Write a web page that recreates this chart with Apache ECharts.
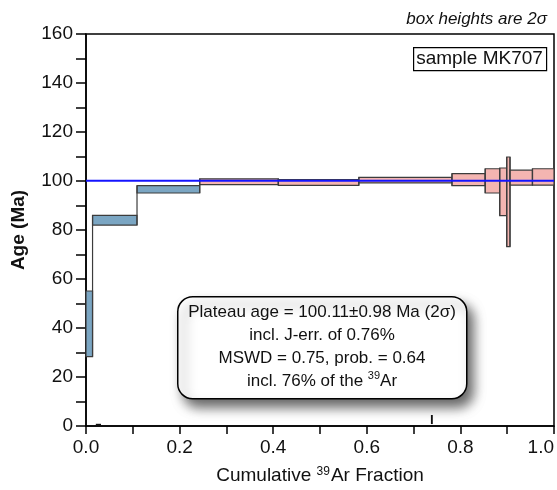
<!DOCTYPE html>
<html>
<head>
<meta charset="utf-8">
<script src="https://cdn.jsdelivr.net/npm/echarts@6/dist/echarts.min.js"></script>
<style>
  html, body { margin: 0; padding: 0; background: #fff; }
  #chart { width: 557px; height: 490px; }
</style>
</head>
<body>
<div id="chart"></div>
<script>
// step boundaries on cumulative 39Ar fraction
const stepBounds = [0, 0.014, 0.109, 0.243, 0.411, 0.583, 0.782, 0.853, 0.884, 0.899, 0.906, 0.954, 1.0];
// apparent age of each step (Ma) and its 2 sigma error
const stepAge = [41.7, 84.0, 96.6, 99.7, 99.4, 100.35, 100.55, 100.05, 95.6, 91.5, 101.35, 101.65];
const stepErr = [13.4, 2.0, 1.5, 1.2, 1.15, 1.15, 2.45, 4.95, 9.7, 18.3, 3.05, 3.35];
const inPlateau = [false, false, false, true, true, true, true, true, true, true, true, true];
const plateauAge = 100.11;

// the two little black marks sitting on the x axis
const markFrom = [0.021, 0.737];
const markTo = [0.032, 0.741];
const markLo = [0.0, 0.8];
const markHi = [0.9, 4.5];

const FONT = "'Liberation Sans', Arial, sans-serif";
const BLUE_FILL = '#7ba6c3';
const PINK_FILL = '#f4b5b1';
const EDGE = '#3c3c3c';

const boxData = stepAge.map((a, i) => [stepBounds[i], stepBounds[i + 1], a - stepErr[i], a + stepErr[i], inPlateau[i] ? 1 : 0]);

// vertical joins between neighbouring steps
const joinData = [];
for (let i = 1; i < stepAge.length; i++) {
  const lo = Math.min(stepAge[i - 1] - stepErr[i - 1], stepAge[i] - stepErr[i]);
  const hi = Math.max(stepAge[i - 1] + stepErr[i - 1], stepAge[i] + stepErr[i]);
  joinData.push([stepBounds[i], lo, hi]);
}

const markData = markFrom.map((f, i) => [f, markTo[i], markLo[i], markHi[i]]);

const chart = echarts.init(document.getElementById('chart'));

const option = {
  animation: false,
  backgroundColor: '#fff',
  textStyle: { fontFamily: FONT },
  grid: {
    left: 86,
    top: 34,
    right: 0,
    bottom: 63,
    show: true,
    borderColor: '#000',
    borderWidth: 1.5,
  },
  xAxis: {
    type: 'value',
    min: 0,
    max: 1,
    interval: 0.2,
    name: '{a|Cumulative }{s|39}{a|Ar Fraction}',
    nameLocation: 'middle',
    nameGap: 40,
    nameTextStyle: {
      rich: {
        a: { fontSize: 19, fontFamily: FONT, color: '#111' },
        s: { fontSize: 12, fontFamily: FONT, color: '#111', verticalAlign: 'top', padding: [0, 1, 0, 0] },
      },
    },
    axisLine: { lineStyle: { color: '#000', width: 1.5 } },
    axisTick: { length: 8, lineStyle: { color: '#000', width: 1.5 } },
    minorTick: { show: true, splitNumber: 2, length: 8, lineStyle: { color: '#000', width: 1.5 } },
    splitLine: { show: false },
    axisLabel: {
      fontSize: 19,
      color: '#111',
      margin: 12,
      alignMaxLabel: 'right',
      formatter: (v) => v.toFixed(1),
    },
  },
  yAxis: {
    type: 'value',
    min: 0,
    max: 160,
    interval: 20,
    name: 'Age (Ma)',
    nameLocation: 'middle',
    nameGap: 58,
    nameTextStyle: { fontSize: 19, fontWeight: 'bold', color: '#111', fontFamily: FONT },
    axisLine: { lineStyle: { color: '#000', width: 1.5 } },
    axisTick: { length: 10, lineStyle: { color: '#000', width: 1.5 } },
    minorTick: { show: true, splitNumber: 2, length: 10, lineStyle: { color: '#000', width: 1.5 } },
    splitLine: { show: false },
    axisLabel: { fontSize: 19, color: '#111', margin: 13 },
  },
  series: [
    {
      type: 'custom',
      name: 'steps',
      data: boxData,
      z: 3,
      renderItem: (params, api) => {
        const p0 = api.coord([api.value(0), api.value(3)]);
        const p1 = api.coord([api.value(1), api.value(2)]);
        return {
          type: 'rect',
          shape: { x: p0[0], y: p0[1], width: p1[0] - p0[0], height: p1[1] - p0[1] },
          style: {
            fill: api.value(4) ? PINK_FILL : BLUE_FILL,
            stroke: EDGE,
            lineWidth: 1.2,
          },
        };
      },
    },
    {
      type: 'custom',
      name: 'joins',
      data: joinData,
      z: 4,
      renderItem: (params, api) => {
        const a = api.coord([api.value(0), api.value(1)]);
        const b = api.coord([api.value(0), api.value(2)]);
        return {
          type: 'line',
          shape: { x1: a[0], y1: a[1], x2: b[0], y2: b[1] },
          style: { stroke: EDGE, lineWidth: 1.2 },
        };
      },
    },
    {
      type: 'line',
      name: 'plateau',
      data: [[0, plateauAge], [1, plateauAge]],
      symbol: 'none',
      z: 5,
      lineStyle: { color: '#1414ff', width: 1.8 },
    },
    {
      type: 'custom',
      name: 'marks',
      data: markData,
      z: 6,
      renderItem: (params, api) => {
        const p0 = api.coord([api.value(0), api.value(3)]);
        const p1 = api.coord([api.value(1), api.value(2)]);
        return {
          type: 'rect',
          shape: { x: p0[0], y: p0[1], width: p1[0] - p0[0], height: p1[1] - p0[1] },
          style: { fill: '#111' },
        };
      },
    },
  ],
  graphic: [
    {
      type: 'text',
      right: 10,
      top: 11,
      style: {
        text: 'box heights are 2σ',
        font: 'italic 17px ' + FONT,
        fill: '#111',
      },
    },
    {
      type: 'rect',
      left: 413,
      top: 47,
      shape: { width: 133, height: 23 },
      style: { fill: '#fff', stroke: '#000', lineWidth: 1.2 },
      z: 10,
    },
    {
      type: 'text',
      x: 479.5,
      y: 58.5,
      z: 11,
      style: {
        text: 'sample MK707',
        font: '19px ' + FONT,
        fill: '#111',
        align: 'center',
        verticalAlign: 'middle',
      },
    },
    {
      type: 'rect',
      left: 177,
      top: 296,
      shape: { width: 289, height: 102, r: 15 },
      style: {
        fill: '#fff',
        stroke: '#000',
        lineWidth: 1.5,
        shadowBlur: 12,
        shadowOffsetX: 6,
        shadowOffsetY: 8,
        shadowColor: 'rgba(0,0,0,0.6)',
      },
      z: 10,
    },
    {
      type: 'text',
      x: 322,
      y: 347,
      z: 11,
      style: {
        text: 'Plateau age = 100.11±0.98 Ma (2σ)\nincl. J-err. of 0.76%\nMSWD = 0.75, prob. = 0.64\nincl. 76% of the {s|39}Ar',
        font: '17px ' + FONT,
        fill: '#111',
        align: 'center',
        verticalAlign: 'middle',
        lineHeight: 23,
        rich: {
          s: { fontSize: 11, fontFamily: FONT, fill: '#111', verticalAlign: 'top', lineHeight: 23 },
        },
      },
    },
  ],
};

chart.setOption(option);
</script>
</body>
</html>
